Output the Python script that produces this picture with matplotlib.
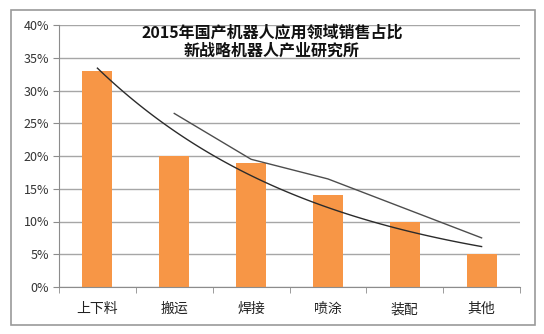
import numpy as np
import matplotlib.pyplot as plt
from matplotlib.patches import Rectangle
from matplotlib.ticker import PercentFormatter

plt.rcParams['font.family'] = ['Noto Sans CJK SC', 'DejaVu Sans']

categories = ['上下料', '搬运', '焊接', '喷涂', '装配', '其他']
share = [33, 20, 19, 14, 10, 5]
yticks = [0, 5, 10, 15, 20, 25, 30, 35, 40]
title_lines = ['2015年国产机器人应用领域销售占比', '新战略机器人产业研究所']

x = np.arange(len(categories))
y = np.array(share, dtype=float)

# exponential trendline fitted to the shares
k, c = np.polyfit(x, np.log(y), 1)
xs = np.linspace(0, len(x) - 1, 100)
trend = np.exp(c + k * xs)

# 2-period moving average
mavg = (y[1:] + y[:-1]) / 2

fig = plt.figure(figsize=(5.44, 3.34), dpi=100)
ax = fig.add_axes([59/544, 47/334, 461/544, 262/334])

ax.bar(x, y, width=0.39, color='#F79646', zorder=2)
ax.plot(xs, trend, color='#2b2b2b', lw=1.0, zorder=3)
ax.plot(x[1:], mavg, color='#4d4d4d', lw=1.0, zorder=3)

ax.set_xlim(-0.5, len(x) - 0.5)
ax.set_ylim(0, 40)
ax.set_yticks(yticks)
ax.yaxis.set_major_formatter(PercentFormatter(decimals=0))
ax.grid(axis='y', color='#a6a6a6', lw=1.0, zorder=0)

for s in ['top', 'right']:
    ax.spines[s].set_visible(False)
for s in ['left', 'bottom']:
    ax.spines[s].set_color('#8c8c8c')

ax.set_xticks(x)
ax.set_xticklabels(categories, fontsize=10, color='#222222')
ax.set_xticks(np.arange(-0.5, len(x)), minor=True)
ax.tick_params(axis='x', which='major', length=0, pad=11)
ax.tick_params(axis='x', which='minor', length=4, color='#8c8c8c', direction='out')
ax.tick_params(axis='y', length=4, color='#8c8c8c', labelsize=9, labelcolor='#333333', pad=3)

fig.text(0.5, 0.903, title_lines[0], ha='center', va='center',
         fontsize=11.5, fontweight='bold', color='#111111')
fig.text(0.5, 0.848, title_lines[1], ha='center', va='center',
         fontsize=11.5, fontweight='bold', color='#111111')

# outer chart frame
fig.patches.append(Rectangle((11/544, 9/334), 524/544, 315/334, transform=fig.transFigure,
                             fill=False, edgecolor='#9a9a9a', lw=1.2))

fig.savefig('out.png', dpi=100)
